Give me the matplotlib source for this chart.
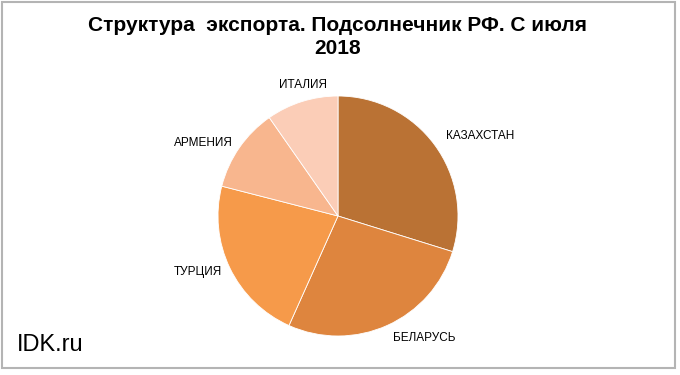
import matplotlib.pyplot as plt
from matplotlib.patches import Rectangle

plt.rcParams['font.family'] = ['Liberation Sans', 'DejaVu Sans']

countries = ["КАЗАХСТАН", "БЕЛАРУСЬ", "ТУРЦИЯ", "АРМЕНИЯ", "ИТАЛИЯ"]
shares = [29.8, 26.9, 22.3, 11.3, 9.7]
colors = ["#BA7234", "#DE853E", "#F69A4A", "#F8B68E", "#FBCDB7"]

W, H = 680, 375
fig = plt.figure(figsize=(W / 100, H / 100), dpi=100)

# pie centre ~ (338, 216) px, radius ~120 px
cx, cy, r = 338, 216, 120
half = 1.25 * r
ax = fig.add_axes([(cx - half) / W, (H - cy - half) / H, 2 * half / W, 2 * half / H])

wedges, texts = ax.pie(shares, labels=countries, colors=colors, startangle=90,
                       counterclock=False, labeldistance=1.12,
                       wedgeprops=dict(linewidth=0.6, edgecolor="white"),
                       textprops=dict(fontsize=8.5, color="black"))
# left-hand labels sit a bit closer to the pie
for t in texts[2:4]:
    x, y = t.get_position()
    t.set_position((x * 1.07 / 1.12, y * 1.07 / 1.12))
texts[-1].set_ha("center")
texts[-1].set_position((-0.29, 1.09))
ax.set_xlim(-1.25, 1.25)
ax.set_ylim(-1.25, 1.25)
ax.set_aspect("equal")
ax.axis("off")

fig.text(cx / W, 1 - 37 / H, "Структура  экспорта. Подсолнечник РФ. С июля\n2018",
         ha="center", va="center", fontsize=15, fontweight="bold", linespacing=1.25)
fig.text(17 / W, 1 - 345 / H, "IDK.ru", ha="left", va="center", fontsize=17)

fig.patches.append(Rectangle((2 / W, 1 - 368 / H), 673 / W, 366 / H, transform=fig.transFigure,
                             fill=False, edgecolor="#B4B4B4", linewidth=1.5))

fig.savefig("out.png", dpi=100)
